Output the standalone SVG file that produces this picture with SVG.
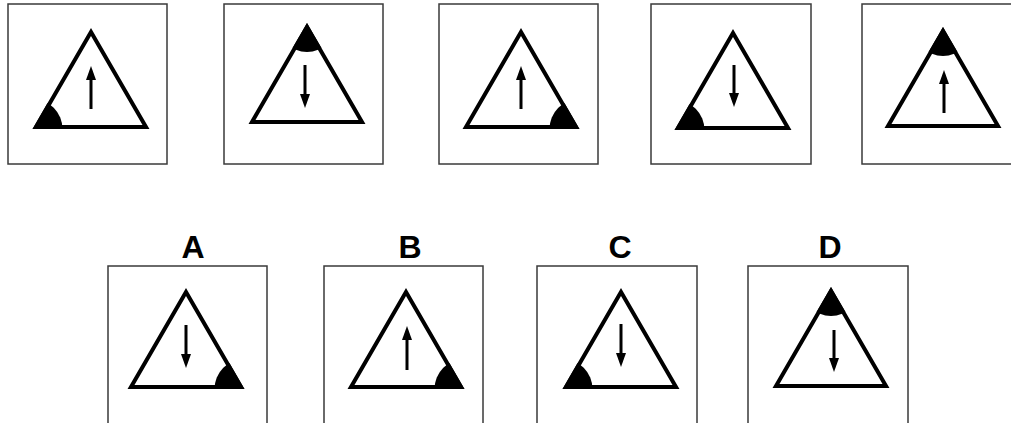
<svg xmlns="http://www.w3.org/2000/svg" width="1011" height="423" viewBox="0 0 1011 423">
<style>
.box{fill:#fff;stroke:#3a3a3a;stroke-width:1.5}
.tri{fill:none;stroke:#000;stroke-width:4;stroke-linejoin:miter}
.ar{stroke:#000;stroke-width:3}
.lbl{font-family:"Liberation Sans",Arial,sans-serif;font-weight:bold;font-size:32px;text-anchor:middle;fill:#000}
</style>
<defs>
<clipPath id="tc" clipPathUnits="userSpaceOnUse"><polygon points="0,-4 -58.5,97 58.5,97"/></clipPath>
<marker id="ah" markerWidth="14" markerHeight="10" refX="1" refY="5" orient="auto" markerUnits="userSpaceOnUse" viewBox="0 0 14 10"><path d="M0,0 L14,5 L0,10 z" fill="#000"/></marker>
</defs>
<rect width="1011" height="423" fill="#fff"/>
<g id="p1">
<rect class="box" x="8" y="4" width="159" height="160"/>
<g transform="translate(91,32)"><circle cx="-58.5" cy="97" r="30" clip-path="url(#tc)"/><polygon class="tri" points="0,0 -55,95 55,95"/></g>
<line class="ar" x1="91" y1="109" x2="91" y2="79" marker-end="url(#ah)"/>
</g>
<g id="p2">
<rect class="box" x="224" y="4" width="159" height="160"/>
<g transform="translate(307,27)"><circle cx="0" cy="-4" r="29" clip-path="url(#tc)"/><polygon class="tri" points="0,0 -55,95 55,95"/></g>
<line class="ar" x1="305" y1="65" x2="305" y2="95" marker-end="url(#ah)"/>
</g>
<g id="p3">
<rect class="box" x="439" y="4" width="159" height="160"/>
<g transform="translate(521,32)"><circle cx="58.5" cy="97" r="30" clip-path="url(#tc)"/><polygon class="tri" points="0,0 -55,95 55,95"/></g>
<line class="ar" x1="521" y1="109" x2="521" y2="79" marker-end="url(#ah)"/>
</g>
<g id="p4">
<rect class="box" x="651" y="4" width="160" height="160"/>
<g transform="translate(733,33)"><circle cx="-58.5" cy="97" r="30" clip-path="url(#tc)"/><polygon class="tri" points="0,0 -55,95 55,95"/></g>
<line class="ar" x1="734" y1="65" x2="734" y2="94" marker-end="url(#ah)"/>
</g>
<g id="p5">
<rect class="box" x="862" y="4" width="160" height="160"/>
<g transform="translate(943,31)"><circle cx="0" cy="-4" r="29" clip-path="url(#tc)"/><polygon class="tri" points="0,0 -55,95 55,95"/></g>
<line class="ar" x1="944" y1="113" x2="944" y2="83" marker-end="url(#ah)"/>
</g>
<g id="optA">
<text class="lbl" x="193" y="258">A</text>
<rect class="box" x="108" y="266" width="159" height="170"/>
<g transform="translate(186,292)"><circle cx="58.5" cy="97" r="30" clip-path="url(#tc)"/><polygon class="tri" points="0,0 -55,95 55,95"/></g>
<line class="ar" x1="186" y1="325" x2="186" y2="355" marker-end="url(#ah)"/>
</g>
<g id="optB">
<text class="lbl" x="410" y="258">B</text>
<rect class="box" x="324" y="266" width="159" height="170"/>
<g transform="translate(406,292)"><circle cx="58.5" cy="97" r="30" clip-path="url(#tc)"/><polygon class="tri" points="0,0 -55,95 55,95"/></g>
<line class="ar" x1="407" y1="370" x2="407" y2="339" marker-end="url(#ah)"/>
</g>
<g id="optC">
<text class="lbl" x="620" y="258">C</text>
<rect class="box" x="537" y="266" width="160" height="170"/>
<g transform="translate(621,292)"><circle cx="-58.5" cy="97" r="30" clip-path="url(#tc)"/><polygon class="tri" points="0,0 -55,95 55,95"/></g>
<line class="ar" x1="621" y1="324" x2="621" y2="354" marker-end="url(#ah)"/>
</g>
<g id="optD">
<text class="lbl" x="830" y="258">D</text>
<rect class="box" x="748" y="266" width="160" height="170"/>
<g transform="translate(831,291)"><circle cx="0" cy="-4" r="29" clip-path="url(#tc)"/><polygon class="tri" points="0,0 -55,95 55,95"/></g>
<line class="ar" x1="834" y1="330" x2="834" y2="359" marker-end="url(#ah)"/>
</g>
<g id="connectors"></g>
</svg>
